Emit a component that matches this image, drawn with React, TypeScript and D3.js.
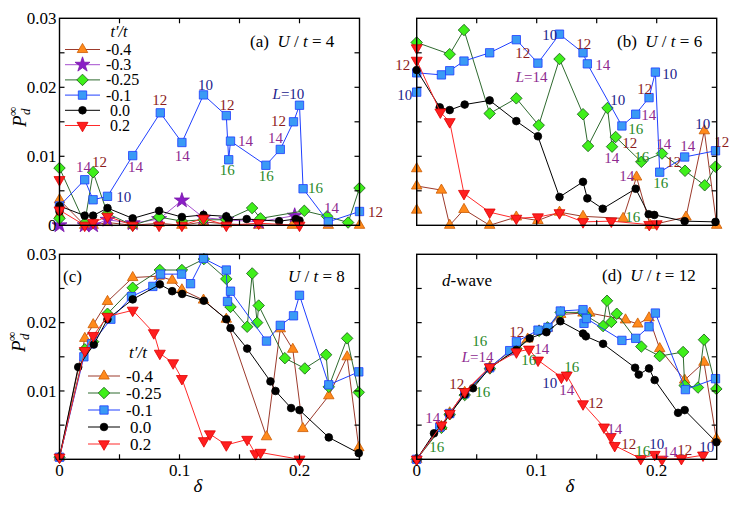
import React from 'react';
import * as d3 from 'd3';

type Pt = [number, number];

const FONT = "'Liberation Serif', 'Times New Roman', Times, serif";

// ---------- axis ticks ----------
const X_TICKS = [0, 0.05, 0.1, 0.15, 0.2, 0.25];
const X_TICK_LABELS: Record<string, string> = { '0': '0', '0.1': '0.1', '0.2': '0.2' };
const Y_TICKS = [0, 0.005, 0.01, 0.015, 0.02, 0.025, 0.03];
const Y_TICK_LABELS: Record<string, string> = { '0': '0', '0.01': '0.01', '0.02': '0.02', '0.03': '0.03' };

// ---------- legend ----------
const LEGEND_A = ['-0.4', '-0.3', '-0.25', '-0.1', '0.0', '0.2'];
const LEGEND_C = ['-0.4', '-0.25', '-0.1', '0.0', '0.2'];

// ---------- panel (a) U/t = 4 ----------
const a_m04: Pt[] = [[0, 0.0015], [0, 0.0037], [0.021, 0], [0.028, 0], [0.04, 0.0004], [0.061, 0], [0.083, 0.0003], [0.102, 0], [0.12, 0.0005], [0.139, 0.0002], [0.166, 0], [0.194, 0], [0.224, 0], [0.25, 0]];
const a_m03: Pt[] = [[0, 0], [0.021, 0], [0.028, 0], [0.04, 0.0008], [0.061, 0.0003], [0.083, 0.0009], [0.102, 0.0036], [0.12, 0.0011], [0.139, 0.0008], [0.166, 0.0005], [0.196, 0.0014]];
const a_m025: Pt[] = [[0, 0.001], [0, 0.0083], [0.021, 0.0003], [0.028, 0.0077], [0.04, 0.0017], [0.061, 0], [0.083, 0.0012], [0.102, 0.0006], [0.12, 0.0008], [0.139, 0.0008], [0.1605, 0.0025], [0.1675, 0.001], [0.204, 0.0021], [0.223, 0.0013], [0.2405, 0.0004], [0.25, 0.0054]];
const a_m01: Pt[] = [[0, 0.0028], [0.021, 0.0066], [0.028, 0.0037], [0.04, 0.0042], [0.061, 0.0101], [0.084, 0.0163], [0.102, 0.012], [0.12, 0.0189], [0.139, 0.0159], [0.141, 0.0095], [0.1425, 0.0122], [0.172, 0.0087], [0.184, 0.011], [0.195, 0.015], [0.2, 0.0174], [0.203, 0.0053], [0.224, 0.0005], [0.25, 0.002]];
const a_00: Pt[] = [[0, 0.002], [0, 0.0028], [0.021, 0.0014], [0.028, 0.0014], [0.04, 0.0025], [0.061, 0.001], [0.083, 0.0021], [0.102, 0.0012], [0.12, 0.0015], [0.139, 0.0013], [0.141, 0.0008], [0.156, 0.0009], [0.183, 0.0006], [0.197, 0.0009], [0.2, 0.0007]];
const a_02: Pt[] = [[0, 0.0066], [0, 0.0022], [0.021, 0], [0.028, 0.0004], [0.04, 0.0013], [0.061, 0], [0.083, 0], [0.102, 0], [0.12, 0.001], [0.139, 0], [0.166, 0.0003], [0.2, 0]];

// ---------- panel (b) U/t = 6 ----------
const b_m04: Pt[] = [[0, 0.0022], [0, 0.0082], [0, 0.0057], [0.0206, 0.0051], [0.0275, 0], [0.0394, 0.0023], [0.0608, 0], [0.083, 0.0012], [0.101, 0.0007], [0.119, 0.0019], [0.1386, 0.0013], [0.172, 0.001], [0.1832, 0.007], [0.1945, 0], [0.2244, 0.0012], [0.2397, 0.0137], [0.25, 0]];
const b_m025: Pt[] = [[0, 0.0265], [0.0275, 0.0248], [0.0394, 0.0283], [0.0608, 0.0162], [0.083, 0.0184], [0.1017, 0.0145], [0.119, 0.0241], [0.1386, 0.0161], [0.1428, 0.0115], [0.159, 0.017], [0.1628, 0.0114], [0.1658, 0.0128], [0.1872, 0.0092], [0.2044, 0.0104], [0.2236, 0.0079], [0.24, 0.0058], [0.249, 0.0085]];
const b_m01: Pt[] = [[0, 0.0193], [0, 0.0221], [0.0206, 0.0218], [0.0275, 0.0224], [0.0394, 0.0238], [0.0608, 0.025], [0.083, 0.0269], [0.101, 0.0235], [0.119, 0.0277], [0.1386, 0.025], [0.1422, 0.0234], [0.171, 0.0144], [0.1825, 0.0161], [0.1936, 0.0185], [0.1989, 0.0222], [0.2025, 0.0077], [0.2233, 0.0099], [0.249, 0.0108]];
const b_00: Pt[] = [[0, 0.0225], [0.0192, 0.0171], [0.0275, 0.0167], [0.04, 0.0175], [0.0608, 0.0181], [0.083, 0.0151], [0.101, 0.0129], [0.119, 0.0041], [0.1386, 0.0063], [0.1422, 0.0039], [0.155, 0.0024], [0.1825, 0.0053], [0.1933, 0.0016], [0.198, 0.0015], [0.2233, 0.0006], [0.249, 0.0005]];
const b_02: Pt[] = [[0, 0.0257], [0, 0.0239], [0.0197, 0.0164], [0.0275, 0.015], [0.0394, 0.0046], [0.0608, 0.0019], [0.083, 0.001], [0.101, 0.0012], [0.119, 0.0018], [0.1386, 0.0005], [0.1622, 0.0006], [0.1938, 0.0001], [0.2, 0.0002]];

// ---------- panel (c) U/t = 8 ----------
const c_m04: Pt[] = [[0, 0.0003], [0.0211, 0.0177], [0.0281, 0.0197], [0.04, 0.0231], [0.061, 0.0266], [0.083, 0.0268], [0.0939, 0.0262], [0.102, 0.0248], [0.12, 0.0233], [0.139, 0.0205], [0.1725, 0.0033], [0.184, 0.0191], [0.1944, 0.0161], [0.2028, 0.0045], [0.2244, 0.0093], [0.2397, 0.015], [0.2494, 0.0017]];
const c_m025: Pt[] = [[0, 0.0003], [0.0211, 0.0161], [0.0281, 0.0172], [0.04, 0.0213], [0.061, 0.0251], [0.0836, 0.0277], [0.102, 0.0277], [0.1203, 0.0293], [0.139, 0.0264], [0.1425, 0.0223], [0.1564, 0.0194], [0.1606, 0.0272], [0.1647, 0.02], [0.166, 0.0225], [0.1878, 0.0148], [0.2044, 0.0133], [0.2222, 0.0153], [0.2244, 0.0106], [0.2397, 0.0177], [0.2494, 0.0098]];
const c_m01: Pt[] = [[0, 0.0003], [0.0203, 0.015], [0.0267, 0.0169], [0.0428, 0.0205], [0.06, 0.0238], [0.0778, 0.0253], [0.0842, 0.0271], [0.1017, 0.0271], [0.1092, 0.0257], [0.12, 0.0294], [0.139, 0.0277], [0.14, 0.0231], [0.1425, 0.0246], [0.1725, 0.0173], [0.184, 0.0196], [0.195, 0.021], [0.2, 0.024], [0.2244, 0.0109], [0.2494, 0.0128]];
const c_00: Pt[] = [[0, 0.0003], [0.0156, 0.0135], [0.0286, 0.0168], [0.04, 0.0205], [0.061, 0.0234], [0.0836, 0.0256], [0.0939, 0.0246], [0.1022, 0.0242], [0.1203, 0.0232], [0.139, 0.0205], [0.1425, 0.0192], [0.1564, 0.0162], [0.1758, 0.0114], [0.18, 0.01], [0.193, 0.0075], [0.2, 0.0072], [0.2244, 0.0032], [0.2494, 0.0009]];
const c_02: Pt[] = [[0, 0.0003], [0.0211, 0.0159], [0.0281, 0.0181], [0.04, 0.0209], [0.061, 0.0218], [0.0786, 0.0185], [0.0836, 0.0155], [0.0947, 0.0141], [0.102, 0.0118], [0.1203, 0.0027], [0.1253, 0.0037], [0.139, 0.0021], [0.1564, 0.0029], [0.1633, 0.0008], [0.1675, 0.001], [0.2, 0]];

// ---------- panel (d) U/t = 12 ----------
const d_m04: Pt[] = [[0, 0], [0.0206, 0.0048], [0.0275, 0.0068], [0.04, 0.0098], [0.061, 0.0135], [0.083, 0.0165], [0.0925, 0.0176], [0.102, 0.0188], [0.109, 0.0192], [0.12, 0.0212], [0.1386, 0.0214], [0.1442, 0.0214], [0.174, 0.0204], [0.1842, 0.0198], [0.1936, 0.0207], [0.2025, 0.0162], [0.2233, 0.0116], [0.2394, 0.0142], [0.2497, 0.003]];
const d_m025: Pt[] = [[0, 0], [0.0206, 0.0046], [0.0275, 0.0066], [0.04, 0.0094], [0.061, 0.0133], [0.083, 0.0162], [0.102, 0.0188], [0.109, 0.0193], [0.12, 0.0215], [0.1386, 0.0215], [0.1414, 0.021], [0.1553, 0.0195], [0.1586, 0.0232], [0.1622, 0.0201], [0.1667, 0.0213], [0.1872, 0.0165], [0.2025, 0.0151], [0.222, 0.0157], [0.2233, 0.0108], [0.2344, 0.0105], [0.2394, 0.0175], [0.2497, 0.0103]];
const d_m01: Pt[] = [[0, 0], [0.0192, 0.0047], [0.0275, 0.0067], [0.04, 0.0096], [0.0608, 0.0134], [0.0775, 0.0159], [0.0831, 0.0172], [0.1011, 0.0189], [0.1094, 0.0193], [0.1197, 0.0217], [0.1386, 0.0219], [0.1394, 0.0199], [0.1414, 0.0206], [0.171, 0.0174], [0.1825, 0.0177], [0.1936, 0.0194], [0.1989, 0.0214], [0.2239, 0.0102], [0.249, 0.0118]];
const d_00: Pt[] = [[0, 0], [0.0144, 0.0038], [0.0206, 0.0049], [0.0275, 0.0066], [0.04, 0.0095], [0.0469, 0.0104], [0.061, 0.0134], [0.083, 0.016], [0.0942, 0.0177], [0.1081, 0.0186], [0.1197, 0.0202], [0.1386, 0.0184], [0.141, 0.018], [0.1553, 0.0169], [0.182, 0.0134], [0.185, 0.0124], [0.1936, 0.0133], [0.1983, 0.0116], [0.2178, 0.0068], [0.2233, 0.0072], [0.2497, 0.0025]];
const d_02: Pt[] = [[0, 0], [0.0206, 0.005], [0.0275, 0.0067], [0.04, 0.0099], [0.0608, 0.0135], [0.0831, 0.0157], [0.0936, 0.0161], [0.1011, 0.0145], [0.1206, 0.012], [0.125, 0.0123], [0.1386, 0.0081], [0.1561, 0.0047], [0.1617, 0.0033], [0.165, 0.002], [0.1867, 0.0001], [0.1983, 0.0007], [0.2044, 0], [0.2206, 0.0001], [0.2386, 0.0006]];

// ---------- lattice size annotations: [text, δ, P, L] ----------
type Ann = [string, number, number, number];
const ANN_A: Ann[] = [
  ['14', 0.02, 0.0085, 14], ['12', 0.0333, 0.0092, 12], ['10', 0.0536, 0.0041, 10], ['14', 0.0633, 0.0085, 14],
  ['12', 0.0836, 0.0182, 12], ['14', 0.1022, 0.01, 14], ['10', 0.1217, 0.0203, 10], ['12', 0.1396, 0.0174, 12],
  ['14', 0.155, 0.0122, 14], ['16', 0.1397, 0.008, 16], ['16', 0.1722, 0.0072, 16], ['14', 0.18, 0.0127, 14],
  ['12', 0.1825, 0.0151, 12], ['L=10', 0.1908, 0.019, 10], ['16', 0.2133, 0.0054, 16], ['14', 0.2267, 0.0025, 14],
  ['12', 0.2633, 0.002, 12],
];
const ANN_B: Ann[] = [
  ['12', -0.0117, 0.0232, 12], ['10', -0.01, 0.0189, 10], ['12', 0.0883, 0.025, 12], ['L=14', 0.0958, 0.0215, 14],
  ['10', 0.1108, 0.0276, 10], ['12', 0.1392, 0.0263, 12], ['14', 0.155, 0.0232, 14], ['10', 0.1675, 0.0182, 10],
  ['12', 0.19, 0.0198, 12], ['10', 0.2108, 0.0219, 10], ['14', 0.1933, 0.016, 14], ['16', 0.1825, 0.014, 16],
  ['12', 0.1775, 0.012, 12], ['14', 0.1625, 0.0097, 14], ['16', 0.1875, 0.0099, 16], ['14', 0.2058, 0.0118, 14],
  ['12', 0.2142, 0.0092, 12], ['14', 0.2258, 0.0115, 14], ['10', 0.2383, 0.0147, 10], ['12', 0.2542, 0.0121, 12],
  ['16', 0.2033, 0.0061, 16], ['14', 0.175, 0.0071, 14], ['16', 0.18, 0.0012, 16],
];
const ANN_D: Ann[] = [
  ['16', 0.0525, 0.0173, 16], ['L=14', 0.0508, 0.0149, 14], ['12', 0.0833, 0.0187, 12], ['14', 0.1042, 0.0161, 14],
  ['16', 0.0933, 0.0145, 16], ['10', 0.1108, 0.0111, 10], ['16', 0.1292, 0.0135, 16], ['14', 0.125, 0.0101, 14],
  ['12', 0.0333, 0.011, 12], ['16', 0.055, 0.0098, 16], ['14', 0.0133, 0.0061, 14], ['16', 0.0167, 0.0018, 16],
  ['12', 0.1492, 0.0082, 12], ['14', 0.165, 0.0044, 14], ['12', 0.1767, 0.0023, 12], ['16', 0.1883, 0.0012, 16],
  ['10', 0.2, 0.0023, 10], ['14', 0.2108, 0.001, 14], ['12', 0.2233, 0.0013, 12], ['10', 0.2417, 0.0018, 10],
];

const L_COLORS: Record<number, string> = { 10: '#22228c', 12: '#8c1c1c', 14: '#8e2a90', 16: '#2a8a2a' };

type Style = { shape: string; fill: string; stroke: string; line: string };
const STYLES: Record<string, Style> = {
  '-0.4': { shape: 'triUp', fill: '#ff8a1c', stroke: '#cc5a00', line: '#9c3a2c' },
  '-0.3': { shape: 'star', fill: '#8a1ec6', stroke: '#7a16aa', line: '#a64fcf' },
  '-0.25': { shape: 'diamond', fill: '#3ff01a', stroke: '#1d5e1d', line: '#2f6a2f' },
  '-0.1': { shape: 'square', fill: '#3a9af5', stroke: '#1e3cff', line: '#2040ff' },
  '0.0': { shape: 'circle', fill: '#000', stroke: '#000', line: '#000' },
  '0.2': { shape: 'triDown', fill: '#ff1f1f', stroke: '#e00000', line: '#ff2a2a' },
};

const SYM: Record<string, { d: string; rot: number }> = {
  triUp: { d: d3.symbol().type(d3.symbolTriangle).size(48)() as string, rot: 0 },
  triDown: { d: d3.symbol().type(d3.symbolTriangle).size(52)() as string, rot: 180 },
  diamond: { d: d3.symbol().type(d3.symbolSquare).size(66)() as string, rot: 45 },
  square: { d: d3.symbol().type(d3.symbolSquare).size(70)() as string, rot: 0 },
  circle: { d: d3.symbol().type(d3.symbolCircle).size(46)() as string, rot: 0 },
  star: { d: d3.symbol().type(d3.symbolStar).size(70)() as string, rot: 0 },
};

function Marker({ cx, cy, st }: { cx: number; cy: number; st: Style }) {
  const s = SYM[st.shape];
  return (
    <path d={s.d} transform={`translate(${cx},${cy}) rotate(${s.rot})`} fill={st.fill} stroke={st.stroke} strokeWidth={0.8} />
  );
}

type SeriesDef = { key: string; data: Pt[] };

function Panel(props: {
  x0: number; x1: number; y0: number; y1: number;
  series: SeriesDef[]; ann: Ann[];
  xLabels: boolean; yLabels: boolean; yZero: boolean;
}) {
  const { x0, x1, y0, y1, series, ann, xLabels, yLabels, yZero } = props;
  const x = d3.scaleLinear().domain([0, 0.25]).range([x0, x1]);
  const y = d3.scaleLinear().domain([0, 0.03]).range([y0, y1]);
  const line = d3.line<Pt>().x(d => x(d[0])).y(d => y(d[1]));
  const tl = 5;
  return (
    <g>
      {series.map(s => {
        const st = STYLES[s.key];
        return (
          <g key={s.key}>
            <path d={line(s.data) as string} fill="none" stroke={st.line} strokeWidth={1} />
            {s.data.map((p, i) => <Marker key={i} cx={x(p[0])} cy={y(p[1])} st={st} />)}
          </g>
        );
      })}
      {ann.map((a, i) => {
        const isL = a[0].startsWith('L=');
        return (
          <text key={i} x={x(a[1])} y={y(a[2])} textAnchor="middle" dominantBaseline="central"
            fontSize={15} fill={L_COLORS[a[3]]}>
            {isL ? (<><tspan fontStyle="italic">L</tspan>{a[0].slice(1)}</>) : a[0]}
          </text>
        );
      })}
      <rect x={x0} y={y1} width={x1 - x0} height={y0 - y1} fill="none" stroke="#000" strokeWidth={1.4} />
      {X_TICKS.filter(t => t > 0 && t < 0.25).map(t => (
        <g key={'xt' + t}>
          <line x1={x(t)} x2={x(t)} y1={y0} y2={y0 - tl} stroke="#000" strokeWidth={1.2} />
          <line x1={x(t)} x2={x(t)} y1={y1} y2={y1 + tl} stroke="#000" strokeWidth={1.2} />
        </g>
      ))}
      {Y_TICKS.filter(t => t > 0 && t < 0.03).map(t => (
        <g key={'yt' + t}>
          <line x1={x0} x2={x0 + tl} y1={y(t)} y2={y(t)} stroke="#000" strokeWidth={1.2} />
          <line x1={x1} x2={x1 - tl} y1={y(t)} y2={y(t)} stroke="#000" strokeWidth={1.2} />
        </g>
      ))}
      {xLabels && X_TICKS.filter(t => X_TICK_LABELS[String(t)]).map(t => (
        <text key={'xl' + t} x={x(t)} y={y0 + 17} textAnchor="middle" fontSize={17}>{X_TICK_LABELS[String(t)]}</text>
      ))}
      {yLabels && Y_TICKS.filter(t => Y_TICK_LABELS[String(t)] && (t > 0 || yZero)).map(t => (
        <text key={'yl' + t} x={x0 - 3} y={y(t)} dy="0.34em" textAnchor="end" fontSize={17}>{Y_TICK_LABELS[String(t)]}</text>
      ))}
    </g>
  );
}

function Legend({ keys, x0, x1, tx, ty, y0, dy, fs }: { keys: string[]; x0: number; x1: number; tx: number; ty: number; y0: number; dy: number; fs: number }) {
  return (
    <g fontSize={fs}>
      <text x={tx} y={ty} textAnchor="middle" fontStyle="italic">t′/t</text>
      {keys.map((k, i) => {
        const st = STYLES[k];
        const yy = y0 + i * dy;
        const pad = k.startsWith('-') ? 0 : 4;
        return (
          <g key={k}>
            <line x1={x0} x2={x1} y1={yy} y2={yy} stroke={st.line} strokeWidth={1} />
            <Marker cx={(x0 + x1) / 2} cy={yy} st={st} />
            <text x={x1 + 6 + pad} y={yy + 5.5}>{k}</text>
          </g>
        );
      })}
    </g>
  );
}

function YTitle({ x, y }: { x: number; y: number }) {
  return (
    <g>
      <text transform={`translate(${x},${y}) rotate(-90)`} fontSize={19} fontStyle="italic">P</text>
      <text transform={`translate(${x + 4},${y - 12}) rotate(-90)`} fontSize={13} fontStyle="italic">d</text>
      <text transform={`translate(${x - 9},${y - 11}) rotate(-90)`} fontSize={13}>∞</text>
    </g>
  );
}

function Title({ x, y, tag, u }: { x: number; y: number; tag: string; u: string }) {
  return (
    <text x={x} y={y} fontSize={17} style={{ whiteSpace: 'pre' }}>
      {tag ? tag + '  ' : ''}<tspan fontStyle="italic">U</tspan>{' / '}<tspan fontStyle="italic">t</tspan>{' = ' + u}
    </text>
  );
}

export default function App() {
  const A = { x0: 59.5, x1: 359.5 };
  const B = { x0: 416.7, x1: 716.7 };
  const top = { y0: 225.3, y1: 18.3 };
  const bot = { y0: 459.3, y1: 254.3 };
  return (
    <svg width={736} height={507} fontFamily={FONT}
      style={{ position: 'absolute', left: 0, top: 0, background: '#fff', fontFamily: FONT }}>
      <rect width={736} height={507} fill="#fff" />
      <Panel {...A} {...top} xLabels={false} yLabels={true} yZero={true} ann={ANN_A}
        series={[{ key: '-0.4', data: a_m04 }, { key: '-0.3', data: a_m03 }, { key: '-0.25', data: a_m025 }, { key: '-0.1', data: a_m01 }, { key: '0.0', data: a_00 }, { key: '0.2', data: a_02 }]} />
      <Panel {...B} {...top} xLabels={false} yLabels={false} yZero={false} ann={ANN_B}
        series={[{ key: '-0.4', data: b_m04 }, { key: '-0.25', data: b_m025 }, { key: '-0.1', data: b_m01 }, { key: '0.0', data: b_00 }, { key: '0.2', data: b_02 }]} />
      <Panel {...A} {...bot} xLabels={true} yLabels={true} yZero={false} ann={[]}
        series={[{ key: '-0.4', data: c_m04 }, { key: '-0.25', data: c_m025 }, { key: '-0.1', data: c_m01 }, { key: '0.0', data: c_00 }, { key: '0.2', data: c_02 }]} />
      <Panel {...B} {...bot} xLabels={true} yLabels={false} yZero={false} ann={ANN_D}
        series={[{ key: '-0.4', data: d_m04 }, { key: '-0.25', data: d_m025 }, { key: '-0.1', data: d_m01 }, { key: '0.0', data: d_00 }, { key: '0.2', data: d_02 }]} />

      <Legend keys={LEGEND_A} x0={65} x1={100} tx={119} ty={37} y0={49.5} dy={15.2} fs={16} />
      <Legend keys={LEGEND_C} x0={88} x1={120} tx={138} ty={358} y0={376} dy={17} fs={17} />

      <Title x={250} y={47} tag="(a)" u="4" />
      <Title x={617} y={47} tag="(b)" u="6" />
      <text x={63} y={282} fontSize={17}>(c)</text>
      <Title x={288} y={282} tag="" u="8" />
      <Title x={602} y={281} tag="(d)" u="12" />
      <text x={442} y={286} fontSize={17}><tspan fontStyle="italic">d</tspan>-wave</text>

      <YTitle x={26} y={127} />
      <YTitle x={25} y={352} />
      <text x={198} y={492} fontSize={19} fontStyle="italic" textAnchor="middle">δ</text>
      <text x={570} y={492} fontSize={19} fontStyle="italic" textAnchor="middle">δ</text>
    </svg>
  );
}
